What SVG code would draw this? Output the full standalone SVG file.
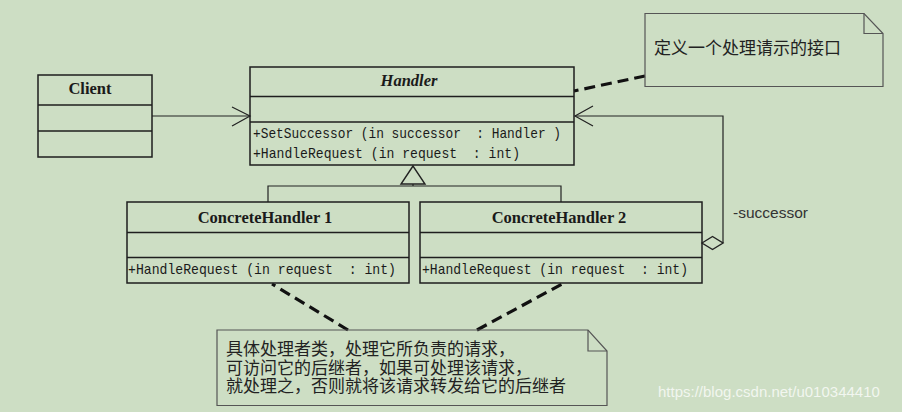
<svg xmlns="http://www.w3.org/2000/svg" width="902" height="412" viewBox="0 0 902 412">
<defs>
<style>
.box{fill:none;stroke:#1e1e1e;stroke-width:1.5}
.note{fill:none;stroke:#555;stroke-width:1.2}
.ln{fill:none;stroke:#222;stroke-width:1.2}
.dash{fill:none;stroke:#111;stroke-width:3.2;stroke-dasharray:11 6}
.title{font-family:"Liberation Serif",serif;font-weight:bold;font-size:16.5px;fill:#1a1a1a;text-anchor:middle}
.meth{font-family:"Liberation Mono",monospace;font-size:15px;fill:#1a1a1a}
.cjk{font-family:"Noto Sans CJK SC",sans-serif;font-size:17px;fill:#222}
.lbl{font-family:"Liberation Sans",sans-serif;font-size:15.5px;fill:#333}
</style>
</defs>
<rect width="902" height="412" fill="#cddec4"/>

<g id="connectors">
  <line class="ln" x1="152" y1="116" x2="250" y2="116"/>
  <polyline class="ln" points="232,107 250,116 232,126"/>
  <polygon points="413,166 401,184 425,184" fill="none" stroke="#222" stroke-width="1.4"/>
  <line class="ln" x1="413" y1="184" x2="413" y2="186"/>
  <polyline class="ln" points="268,202 268,186 561,186 561,202"/>
  <polygon points="702,243 712.5,236.5 723,243 712.5,249.5" fill="none" stroke="#222" stroke-width="1.4"/>
  <polyline class="ln" points="723,243 723,116 575,116"/>
  <polyline class="ln" points="593,106 575,116 593,126"/>
  <line class="dash" x1="645" y1="76" x2="574" y2="91"/>
  <line class="dash" x1="348" y1="330" x2="272" y2="284"/>
  <line class="dash" x1="477" y1="330" x2="562" y2="284"/>
</g>

<g id="client">
  <rect class="box" x="38" y="75" width="114" height="82"/>
  <line class="box" x1="38" y1="105" x2="152" y2="105"/>
  <line class="box" x1="38" y1="131" x2="152" y2="131"/>
  <text class="title" x="90" y="94">Client</text>
</g>

<g id="handler">
  <rect class="box" x="250" y="67" width="324" height="98"/>
  <line class="box" x1="250" y1="96.5" x2="574" y2="96.5"/>
  <line class="box" x1="250" y1="122" x2="574" y2="122"/>
  <text class="title" x="409" y="86" font-style="italic">Handler</text>
  <text class="meth" x="253" y="138" textLength="308" lengthAdjust="spacingAndGlyphs" xml:space="preserve">+SetSuccessor (in successor  : Handler )</text>
  <text class="meth" x="253" y="158" textLength="267" lengthAdjust="spacingAndGlyphs" xml:space="preserve">+HandleRequest (in request  : int)</text>
</g>

<g id="concrete1">
  <rect class="box" x="127" y="202" width="282" height="81"/>
  <line class="box" x1="127" y1="232.5" x2="409" y2="232.5"/>
  <line class="box" x1="127" y1="257.5" x2="409" y2="257.5"/>
  <text class="title" x="265" y="223">ConcreteHandler 1</text>
  <text class="meth" x="128" y="274" textLength="268" lengthAdjust="spacingAndGlyphs" xml:space="preserve">+HandleRequest (in request  : int)</text>
</g>

<g id="concrete2">
  <rect class="box" x="420" y="202" width="282" height="81"/>
  <line class="box" x1="420" y1="232.5" x2="702" y2="232.5"/>
  <line class="box" x1="420" y1="257.5" x2="702" y2="257.5"/>
  <text class="title" x="559" y="223">ConcreteHandler 2</text>
  <text class="meth" x="422" y="274" textLength="266" lengthAdjust="spacingAndGlyphs" xml:space="preserve">+HandleRequest (in request  : int)</text>
</g>

<g id="successor-label">
  <text class="lbl" x="733" y="218">-successor</text>
</g>

<g id="note1">
  <polygon class="note" points="645,13.5 864,13.5 883,33.5 883,86.5 645,86.5"/>
  <polyline class="note" points="864,13.5 864,33.5 883,33.5"/>
  <text class="cjk" x="654" y="54">定义一个处理请示的接口</text>
</g>

<g id="note2">
  <polygon class="note" points="217,330 588,330 607,351 607,405.5 217,405.5"/>
  <polyline class="note" points="588,330 588,351 607,351"/>
  <text class="cjk" x="226" y="355"><tspan x="226" y="355">具体处理者类，处理它所负责的请求，</tspan><tspan x="226" y="373.5">可访问它的后继者，如果可处理该请求，</tspan><tspan x="226" y="392">就处理之，否则就将该请求转发给它的后继者</tspan></text>
</g>

<text x="658" y="397" font-family="Liberation Sans, sans-serif" font-size="15px" fill="#ffffff" fill-opacity="0.75">https://blog.csdn.net/u010344410</text>
</svg>
